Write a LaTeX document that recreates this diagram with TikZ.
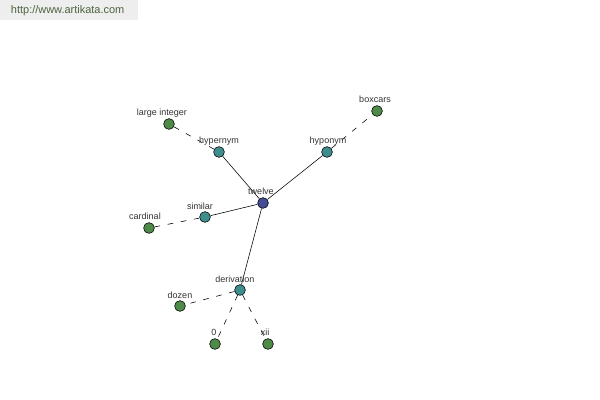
\documentclass[tikz,border=0pt]{standalone}
\usepackage{fontspec}
\setmainfont{Liberation Sans}
\definecolor{rootcol}{HTML}{454C96}
\definecolor{relcol}{HTML}{3E8E8E}
\definecolor{leafcol}{HTML}{4E8A48}
\definecolor{markgray}{HTML}{EEEEEE}
\definecolor{marktext}{HTML}{4E6440}
\definecolor{labcol}{HTML}{333333}
\begin{document}
\begin{tikzpicture}[x=0.025cm,y=-0.025cm,
	dot/.style={circle,draw=black,line width=0.4pt,inner sep=0pt,minimum size=0.27cm},
	root/.style={dot,fill=rootcol},
	rel/.style={dot,fill=relcol},
	leaf/.style={dot,fill=leafcol},
	lab/.style={font=\fontsize{6.4}{7.5}\selectfont,text=labcol,inner sep=1pt},
	solidedge/.style={draw=black,line width=0.4pt},
	dashedge/.style={draw=black,line width=0.4pt,dash pattern=on 4pt off 5.5pt}]
\useasboundingbox (0,0) rectangle (600,400);
\fill[markgray] (0,0) rectangle (138,20);
\node[font=\fontsize{7.8}{9}\selectfont,text=marktext,anchor=west] (site) at (6,11) {http://www.artikata.com};
% nodes
\node[root] (twelve) at (263,203) {};
\node[rel] (hypernym) at (219,152) {};
\node[rel] (hyponym) at (327,152) {};
\node[rel] (similar) at (205,217) {};
\node[rel] (derivation) at (240,290) {};
\node[leaf] (large) at (169,124) {};
\node[leaf] (boxcars) at (377,111) {};
\node[leaf] (cardinal) at (149,228) {};
\node[leaf] (dozen) at (180,306) {};
\node[leaf] (zero) at (215,344) {};
\node[leaf] (xii) at (268,344) {};
% edges
\draw[solidedge] (twelve) -- (hypernym);
\draw[solidedge] (twelve) -- (hyponym);
\draw[solidedge] (twelve) -- (similar);
\draw[solidedge] (twelve) -- (derivation);
\draw[dashedge] (hypernym) -- (large);
\draw[dashedge] (hyponym) -- (boxcars);
\draw[dashedge] (similar) -- (cardinal);
\draw[dashedge] (derivation) -- (dozen);
\draw[dashedge] (derivation) -- (zero);
\draw[dashedge] (derivation) -- (xii);
% labels
\node[lab] (twelvelab) at (261,191) {twelve};
\node[lab] (hypernymlab) at (219,141) {hypernym};
\node[lab] (hyponymlab) at (328,141) {hyponym};
\node[lab] (similarlab) at (200,206) {similar};
\node[lab] (derivationlab) at (235,279) {derivation};
\node[lab] (largelab) at (162,113) {large integer};
\node[lab] (boxcarslab) at (375,99) {boxcars};
\node[lab] (cardinallab) at (145,216) {cardinal};
\node[lab] (dozenlab) at (180,295) {dozen};
\node[lab] (zerolab) at (214,332) {0};
\node[lab] (xiilab) at (265,332) {xii};
\end{tikzpicture}
\end{document}
